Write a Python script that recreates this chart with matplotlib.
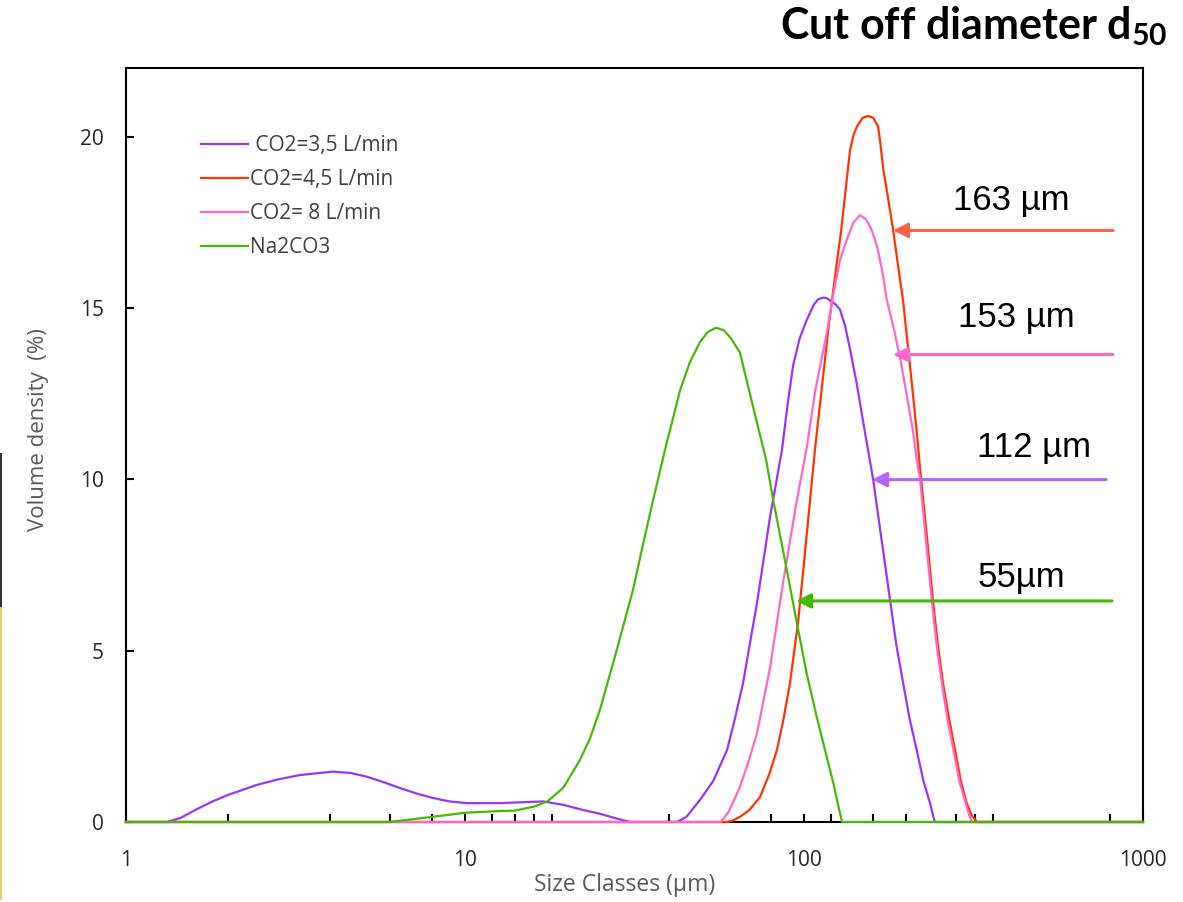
import matplotlib
matplotlib.use("Agg")
import matplotlib.pyplot as plt
from matplotlib.patches import Rectangle

# particle size (um) / volume density (%)
x_35 = [1, 1.32, 1.45, 1.6, 1.8, 2.0, 2.43, 2.8, 3.26, 4.08, 4.6, 5.14, 5.8, 6.43, 7.2, 8.05, 9,
        10.1, 12.7, 15, 17.0, 19.5, 22.3, 25, 28, 30.7,
        42.2, 45, 49.3, 54, 59.3, 62.5, 66.1, 72.7, 79.4, 86.1, 89.5, 92.8, 97, 102, 107, 110,
        113.8, 117, 120, 124, 127.7, 132, 136.7, 143, 149.3, 159.9, 169, 179.4, 187, 196, 205,
        215, 225, 235.4, 240, 243, 1000]
y_35 = [0, 0, 0.12, 0.35, 0.6, 0.79, 1.08, 1.24, 1.37, 1.47, 1.43, 1.32, 1.15, 0.99, 0.83, 0.70, 0.6,
        0.55, 0.55, 0.58, 0.6, 0.5, 0.35, 0.24, 0.1, 0,
        0, 0.15, 0.64, 1.2, 2.1, 3.0, 4.06, 6.4, 8.9, 10.86, 12.2, 13.3, 14.1, 14.66, 15.1, 15.25,
        15.3, 15.28, 15.2, 15.1, 14.95, 14.5, 13.8, 12.8, 11.7, 10.0, 8.3, 6.48, 5.2, 4.06, 3.0,
        2.1, 1.2, 0.55, 0.2, 0, 0]

x_45 = [1, 59.3, 62, 64.7, 69, 74.2, 79, 83.2, 87, 90.9, 96.0, 102, 107.7, 111.5, 118, 124.9,
        128.5, 132.5, 136.7, 140, 143.4, 149, 154.5, 160, 165.3, 168, 171, 177, 183, 189, 196,
        205.5, 215, 220, 230, 240, 248, 257, 268, 279, 290, 302, 312, 324, 1000]
y_45 = [0, 0, 0.05, 0.15, 0.35, 0.73, 1.4, 2.1, 3.0, 4.06, 5.8, 8.44, 10.86, 12.2, 14.4, 16.3,
        17.2, 18.4, 19.6, 20.05, 20.3, 20.55, 20.6, 20.55, 20.3, 19.8, 19.1, 18.2, 17.3, 16.3, 15.2,
        13.3, 11.4, 10.3, 8.4, 6.48, 5.2, 4.06, 3.0, 2.1, 1.2, 0.55, 0.2, 0, 0]

x_8 = [1, 56.8, 60, 64.7, 68.5, 72.7, 79.4, 86.7, 95.3, 102, 108, 116.9, 122, 127.7, 133.9, 140,
       146.3, 152, 158, 164.2, 170, 175.4, 185, 194.1, 209.7, 215, 220, 229, 238, 246, 255, 265,
       276, 287, 300, 307, 313, 1000]
y_8 = [0, 0, 0.3, 1.02, 1.75, 2.6, 4.5, 6.98, 9.4, 10.95, 12.6, 14.3, 15.4, 16.4, 17.0, 17.5,
       17.7, 17.6, 17.3, 16.8, 16.1, 15.24, 14.3, 13.3, 11.4, 10.57, 10.0, 8.2, 6.5, 5.2, 4.06, 3.0,
       2.1, 1.2, 0.55, 0.2, 0, 0]

x_na = [1, 6.0, 7, 8, 10, 12.7, 14, 16, 17.5, 19.5, 21.8, 23.4, 25, 28, 31.3, 33.5, 35.9, 38.9,
        43.1, 46, 49.3, 52, 55, 58, 61, 64.7, 70.8, 77.3, 81.1, 88, 95.3, 102, 109, 116, 122,
        126, 129.5, 1000]
y_na = [0, 0, 0.08, 0.15, 0.27, 0.32, 0.33, 0.45, 0.6, 1.0, 1.8, 2.45, 3.27, 5.0, 6.77, 8.1, 9.4,
        10.86, 12.6, 13.4, 14.0, 14.3, 14.42, 14.35, 14.1, 13.7, 12.1, 10.57, 9.4, 7.6, 5.8, 4.3,
        3.07, 2.0, 1.14, 0.5, 0, 0]

labels = [" CO2=3,5 L/min", "CO2=4,5 L/min", "CO2= 8 L/min", "Na2CO3"]
colors = ["#9933FF", "#FF3300", "#FF66CC", "#44BB00"]

# d50 arrows: text, y level, arrow tip x, arrow tail x
d50_text = ["163 µm", "153 µm", "112 µm", "55µm"]
d50_y = [17.26, 13.64, 9.99, 6.45]
d50_tip = [183, 183, 158.7, 94.7]
d50_tail = [816, 816, 778, 810]
d50_col = ["#FF6347", "#FF66CC", "#B266FF", "#44BB00"]
d50_txt_x = [408, 422, 477, 437]
d50_txt_y = [17.87, 14.45, 10.66, 6.86]

minor_ticks = [2, 4, 6, 8, 12, 14, 16, 18, 40, 80, 120, 160, 200, 280, 320, 360, 800]

plt.rcParams["mathtext.fontset"] = "custom"
plt.rcParams["mathtext.bf"] = "Lato:bold"
plt.rcParams["mathtext.rm"] = "Lato:bold"

fig = plt.figure(figsize=(11.83, 9.02), dpi=100)
ax = fig.add_axes([0.1065, 0.0887, 0.8597, 0.8359])

series = [(x_35, y_35), (x_45, y_45), (x_8, y_8), (x_na, y_na)]
for (xs, ys), lab, c in zip(series, labels, colors):
    ax.plot(xs, ys, color=c, lw=1.6, label=lab, clip_on=False, zorder=3,
            solid_joinstyle="round")

for t, yv, tip, tail, c, tx, ty in zip(d50_text, d50_y, d50_tip, d50_tail, d50_col, d50_txt_x, d50_txt_y):
    ax.annotate("", xy=(tip, yv), xytext=(tail, yv),
                arrowprops=dict(arrowstyle="-|>", color=c, lw=2.2, mutation_scale=22,
                                shrinkA=0, shrinkB=0), zorder=4)
    ax.text(tx, ty, t, fontsize=25, family="Liberation Sans", ha="center", va="baseline")

ax.set_xscale("log")
ax.set_xlim(1, 1000)
ax.set_ylim(0, 22)
ax.set_xticks([1, 10, 100, 1000])
ax.set_xticklabels(["1", "10", "100", "1000"])
ax.set_xticks(minor_ticks, minor=True)
ax.xaxis.set_minor_formatter(plt.NullFormatter())
ax.set_yticks([0, 5, 10, 15, 20])
ax.tick_params(axis="both", which="both", direction="in", length=6, width=1.5,
               labelsize=15, labelcolor="#262626", top=False, right=False)
ax.tick_params(axis="x", which="major", pad=20)
ax.tick_params(axis="y", pad=16)
for lbl in ax.get_xticklabels() + ax.get_yticklabels():
    lbl.set_family("Open Sans")
for s in ax.spines.values():
    s.set_linewidth(1.5)
    s.set_zorder(2.5)

ax.set_xlabel("Size Classes (µm)", fontsize=16.5, family="Open Sans", color="#595959")
ax.set_ylabel("Volume density  (%)", fontsize=16, family="Open Sans", color="#595959")
ax.xaxis.set_label_coords(0.49, -0.068)
ax.yaxis.set_label_coords(-0.076, 0.52)

ax.legend(loc="upper left", bbox_to_anchor=(0.0737, 0.9105), frameon=False,
          prop={"family": "Open Sans", "size": 15}, handlelength=2.26, handletextpad=0.1,
          labelspacing=0.62, borderpad=0, borderaxespad=0, labelcolor="#404040")

fig.text(0.9873, 0.9568, r"Cut off diameter $\mathbf{d_{50}}$", fontsize=31, family="Lato",
         weight="bold", ha="right", va="baseline")

# thin strip on the left edge of the picture
fig.add_artist(Rectangle((0, 1 - 607 / 902), 2 / 1183, 154 / 902, transform=fig.transFigure,
                         color="#333333", lw=0))
fig.add_artist(Rectangle((0, 1 - 900 / 902), 2 / 1183, 293 / 902, transform=fig.transFigure,
                         color="#E8C870", lw=0))

fig.savefig("out.png", dpi=100)
